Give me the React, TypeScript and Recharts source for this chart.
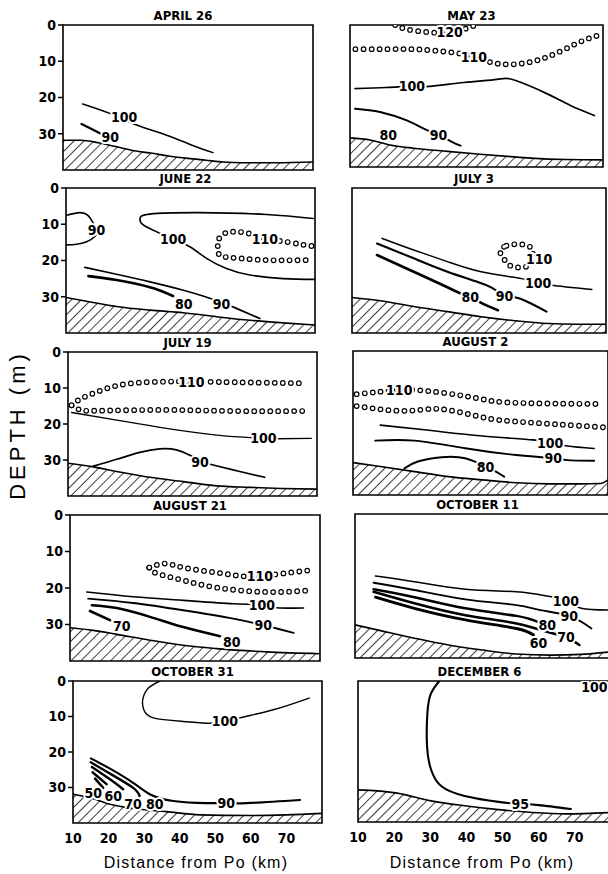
import React from "react";
import {
  ComposedChart,
  Line,
  Area,
  XAxis,
  YAxis,
  Scatter,
  ReferenceArea,
} from "recharts";

type Pt = [number, number]; // [distance km, depth m]
type Tag = [number, number, string];

// #region Data (distance from Po in km, depth in m)
const aprSeabed: Pt[] = [[10, 31.8], [15, 31.8], [20, 32.5], [25, 33.6], [30, 34.7], [35, 35.4], [40, 36.2], [45, 36.8], [50, 37.3], [55, 37.8], [60, 38], [70, 38], [80, 37.8]];
const apr100: Pt[] = [[15.5, 21.8], [23.6, 24.6], [30.6, 27.6], [39, 30.4], [46.5, 33.3], [52, 35.2]];
const apr90: Pt[] = [[15.2, 27.3], [18, 28.7], [21, 30.2]];
const aprTags: Tag[] = [[27.1, 25.5, "100"], [23.2, 30.8, "90"]];

const maySeabed: Pt[] = [[10, 31.8], [15.6, 32.4], [21, 33.8], [27.6, 34.7], [37, 35.6], [46, 36.4], [53.5, 37], [60, 37.5], [70, 37.9], [80, 38]];
const may120: Pt[] = [[22.5, 0], [25.7, 1.2], [31.3, 2], [37.3, 2.2], [41.5, 1.2], [45, 0]];
const may110: Pt[] = [[11.5, 6.8], [20, 6.8], [27, 6.8], [32, 7.1], [39.6, 7.9], [44.3, 9], [48.9, 10.5], [54.4, 11.1], [60, 10.4], [64.6, 9], [69.3, 6.9], [74, 4.6], [79, 2.8]];
const may100: Pt[] = [[11.4, 17.9], [20, 17.6], [27, 17.3], [32, 17.3], [41.5, 16.2], [50.7, 15.3], [55.4, 15.5], [64.6, 19.4], [71, 22.7], [77.6, 25.5]];
const may90: Pt[] = [[11.4, 23.6], [18.3, 24.5], [25.7, 26.9], [30.4, 29.2], [34.5, 31], [38.2, 32.9], [40.6, 34]];
const mayTags: Tag[] = [[37.6, 1.9, "120"], [44.3, 9, "110"], [27.1, 17.3, "100"], [34.5, 31, "90"], [20.6, 31, "80"]];

const junSeabed: Pt[] = [[10, 30.2], [15, 31.1], [24.2, 32.7], [33.6, 33.7], [43, 34.4], [52.3, 35.5], [61.7, 36.5], [71, 37.2], [80, 37.8]];
const jun90a: Pt[] = [[10.2, 7.5], [13.9, 6.8], [16.3, 7.7], [17.7, 9.8], [18.6, 11.6], [18.1, 13.4], [15.8, 14.8], [13, 15.5], [10.2, 15.7]];
const jun100: Pt[] = [[79.5, 8.4], [66.4, 7.3], [47.6, 6.8], [33.6, 7.2], [30.8, 8.4], [31.7, 10.2], [36.4, 12.5], [40.1, 14.1], [44.8, 16.2], [49.5, 19.4], [55.1, 22.2], [61.7, 24], [71, 25], [80, 25.2]];
const jun110: Pt[] = [[79, 16], [75.7, 15.5], [70.1, 14.6], [65.9, 14.1], [61.2, 12.5], [57.9, 12.1], [55.1, 12.3], [52.8, 14.4], [52.8, 17.1], [53.7, 18.8], [58.9, 19.4], [66.4, 19.9], [77.6, 19.9]];
const jun90b: Pt[] = [[15.3, 21.9], [24.2, 23.8], [33.6, 25.9], [43, 28.2], [48.5, 29.8], [53.7, 31.5], [57.9, 33.2], [64.5, 36]];
const jun80: Pt[] = [[16.3, 24.3], [24.2, 25.4], [33.6, 27.4], [40.1, 29.8]];
const junTags: Tag[] = [[18.6, 11.6, "90"], [40.1, 14.1, "100"], [65.9, 14.1, "110"], [53.7, 31.9, "90"], [43.1, 31.9, "80"]];

const jul3Seabed: Pt[] = [[10, 30.2], [17.8, 31.1], [27, 32.7], [36.3, 34.1], [45.6, 35.5], [54.8, 36.6], [64.1, 37.4], [72, 37.6], [80, 37.6]];
const jul3110: Pt[] = [[50.6, 17.1], [52.5, 15.7], [54.8, 15.5], [57.1, 15.5], [59.4, 16], [60.2, 18.5], [59.4, 21.3], [57.6, 21.9], [55.8, 22], [53.5, 21.7], [52.1, 19.9], [51, 18.5]];
const jul3100: Pt[] = [[18.3, 13.9], [27, 17.1], [36.3, 20.3], [45.6, 23.1], [56.7, 25], [61.3, 26.1], [65, 26.8], [76.1, 28]];
const jul390: Pt[] = [[16.9, 15.3], [27, 19.4], [36.3, 23.1], [45.6, 26.3], [49.3, 28], [52, 29.5], [56.2, 30.5], [63.6, 34.1]];
const jul380: Pt[] = [[16.9, 18.5], [27, 23.1], [36.3, 27.4], [40, 29.1], [42.6, 30], [46, 31.9], [50.2, 33.7]];
const jul3Tags: Tag[] = [[61.6, 19.7, "110"], [61.3, 26.3, "100"], [52, 29.8, "90"], [42.6, 30, "80"]];

const jul19Seabed: Pt[] = [[10, 30.9], [17.1, 31.9], [23.7, 33.2], [33, 34.8], [42.4, 36], [51.8, 37.2], [61.1, 37.6], [70, 37.9], [80, 38.1]];
const jul19110a: Pt[] = [[11, 14.8], [13.4, 13.1], [17.1, 11.5], [22.7, 9.6], [30.2, 8.5], [39.6, 8.2], [44.7, 8.2], [56.4, 8.4], [77, 8.7]];
const jul19110b: Pt[] = [[11, 14.8], [13.4, 16.1], [19, 16.3], [37.7, 16.1], [56.4, 16.4], [77.5, 16.4]];
const jul19100: Pt[] = [[11, 16.8], [23.7, 18.9], [37.7, 21.2], [51.8, 23.1], [60.2, 23.7], [64.9, 24], [68.6, 24.1], [78.4, 24]];
const jul1990: Pt[] = [[17.1, 31.7], [23.7, 29.8], [30.2, 27.9], [35.8, 26.9], [40.5, 27.2], [44.7, 28.9], [47.1, 30.3], [50.8, 31.4], [58.3, 33.2], [65.3, 34.8]];
const jul19Tags: Tag[] = [[44.7, 8.2, "110"], [64.9, 24, "100"], [47.1, 30.5, "90"]];

const aug2Seabed: Pt[] = [[10, 31], [17.5, 32.1], [26.9, 33.5], [36.2, 34.9], [45.5, 35.8], [54.8, 36.6], [64.1, 36.9], [72, 36.9], [78, 36.8], [80, 35.8]];
const aug2110a: Pt[] = [[11, 12], [17.5, 11.3], [22.7, 10.8], [26.9, 10.8], [36.2, 11.8], [45.5, 13.4], [54.8, 14.4], [78, 14.7]];
const aug2110b: Pt[] = [[11, 15.3], [22.2, 16.6], [30, 16.2], [36.2, 16.4], [45.5, 18.4], [54.8, 19.6], [79, 21.2]];
const aug2100: Pt[] = [[17.5, 20.6], [31.5, 22.1], [45.5, 23.6], [59.4, 24.7], [64.1, 25.5], [68.8, 26.4], [76.2, 27.1]];
const aug290: Pt[] = [[16.1, 24.9], [26.9, 24.9], [40.8, 27], [54.8, 28.9], [65, 29.8], [68.8, 30.3], [76.2, 30.5]];
const aug280: Pt[] = [[24.1, 32.6], [27.8, 30.7], [34.3, 29.5], [40.8, 29.8], [46.4, 32.1], [49.2, 33.5], [51.5, 34.9]];
const aug2Tags: Tag[] = [[22.7, 10.8, "110"], [64.1, 25.5, "100"], [65, 29.8, "90"], [46.4, 32.1, "80"]];

const aug21Seabed: Pt[] = [[10, 30.9], [16.5, 31.6], [23.1, 32.7], [32.4, 34.3], [41.7, 35.7], [51.1, 36.6], [65.1, 37.5], [80, 38]];
const aug21110a: Pt[] = [[32.2, 14.4], [36.6, 13.3], [41.7, 14.4], [51.1, 15.8], [58.5, 16.8], [63.2, 16.8], [69.7, 16], [77.7, 15.1]];
const aug21110b: Pt[] = [[32.2, 14.4], [34.3, 16], [41.7, 17.9], [51.1, 19.9], [65.1, 21.1], [77.7, 20.6]];
const aug21100: Pt[] = [[14.7, 21.1], [27.7, 22.4], [41.7, 23.4], [55.7, 24.3], [63.7, 24.7], [67.9, 25.4], [75.4, 25.5]];
const aug2190: Pt[] = [[15.1, 22.9], [27.7, 24.1], [41.7, 26.1], [55.7, 28.4], [64.1, 30.2], [67.9, 31.1], [72.6, 32.3]];
const aug2180: Pt[] = [[16.1, 24.7], [23.1, 25.5], [32.4, 27.9], [41.7, 30.7], [52, 33.2]];
const aug2170: Pt[] = [[15.6, 26.3], [21.2, 28.8]];
const aug21Tags: Tag[] = [[63.2, 16.8, "110"], [63.7, 24.7, "100"], [64.1, 30.2, "90"], [55.3, 34.8, "80"], [24.5, 30.5, "70"]];

const oct11Seabed: Pt[] = [[10, 30.8], [17, 32.4], [26.3, 34.5], [35.7, 36.4], [45, 37.8], [54.3, 38.9], [63.7, 39.2], [72, 39], [80, 38.3]];
const oct11100: Pt[] = [[15.6, 17.2], [26.3, 18.8], [40.3, 20.9], [54.3, 21.6], [62.8, 22.8], [67.9, 24.1], [72.1, 26.2], [80.5, 26.7]];
const oct1190: Pt[] = [[15.1, 19.1], [26.3, 21.1], [40.3, 23.7], [54.3, 25.3], [60.9, 26.7], [68.8, 28.3], [74.9, 31.8]];
const oct1180: Pt[] = [[15.1, 20.9], [26.3, 23.1], [40.3, 26.2], [54.3, 28.3], [60, 29.9]];
const oct1170: Pt[] = [[15.1, 21.6], [26.3, 24.8], [40.3, 28.1], [54.3, 30.4], [63.7, 33], [67.9, 34.1], [71.6, 36.4]];
const oct1160: Pt[] = [[15.6, 23.1], [26.3, 26.2], [40.3, 29.4], [54.3, 31.8], [59, 33.6]];
const oct11Tags: Tag[] = [[67.9, 24.1, "100"], [68.8, 28.3, "90"], [62.8, 30.8, "80"], [67.9, 34.1, "70"], [60.4, 35.7, "60"]];

const oct31Seabed: Pt[] = [[10, 31.9], [14.8, 32.9], [20.4, 34.7], [26.9, 35.9], [36.3, 36.8], [45.7, 37.7], [59.7, 37.9], [70, 37.7], [80, 37.3]];
const oct31100: Pt[] = [[34.5, 0], [31.2, 2], [29.6, 5.3], [29.9, 8.1], [32.6, 10.4], [41, 11.4], [48.5, 11.9], [52.7, 11.6], [56.9, 10.4], [66.3, 8.1], [76.4, 4.8]];
const oct3190: Pt[] = [[15, 21.8], [20.4, 24.7], [26.9, 28.7], [31.6, 31.9], [38.2, 33.8], [47.6, 34.4], [53.1, 34.4], [58.8, 34.4], [73.8, 33.5]];
const oct3180: Pt[] = [[15, 22.9], [20.4, 26.1], [26.9, 30.1], [28.7, 32.4]];
const oct3170: Pt[] = [[15.3, 24.2], [20.4, 27.7], [24.1, 30.5]];
const oct3160: Pt[] = [[15.5, 25.7], [19.5, 29.1]];
const oct3150: Pt[] = [[16.2, 27.5], [18.5, 30.1]];
const oct31Tags: Tag[] = [[52.7, 11.4, "100"], [53.1, 34.4, "90"], [33, 34.7, "80"], [26.9, 34.7, "70"], [21.3, 32.4, "60"], [15.7, 31.5, "50"]];

const dec6Seabed: Pt[] = [[10, 30.9], [20.8, 31.8], [30.2, 34], [39.5, 35.4], [48.9, 36.5], [58.2, 37.3], [67.5, 37.7], [80, 37.3]];
const dec695: Pt[] = [[32.5, 0], [30.2, 3.5], [29.2, 9.1], [29.1, 18.5], [30.2, 25.1], [33, 29.8], [39.5, 32.6], [48.9, 34.3], [54.9, 34.9], [60, 35.2], [68.9, 36.3]];
const dec6Tags: Tag[] = [[54.9, 34.9, "95"], [75.4, 1.6, "100"]];

const xTicks = [10, 20, 30, 40, 50, 60, 70];
const yTicks = [0, 10, 20, 30];
// #endregion

const FONT =
  '"DejaVu Sans Condensed", "Liberation Sans Narrow", "Liberation Sans", sans-serif';

type Contour = { pts: Pt[]; w?: number; dotted?: boolean; curve?: any };
type PanelSpec = {
  title: string;
  left: number;
  top: number;
  w: number;
  h: number;
  col: number;
  last?: boolean;
  seabed: Pt[];
  contours: Contour[];
  tags: Tag[];
};

const panels: PanelSpec[] = [
  { title: "APRIL 26", left: 63, top: 25, w: 250, h: 145, col: 0, seabed: aprSeabed, tags: aprTags,
    contours: [{ pts: apr100, w: 1.5 }, { pts: apr90, w: 2.3 }] },
  { title: "MAY 23", left: 350, top: 25, w: 253, h: 142, col: 1, seabed: maySeabed, tags: mayTags,
    contours: [{ pts: may120, dotted: true }, { pts: may110, dotted: true }, { pts: may100, w: 1.7 }, { pts: may90, w: 1.9 }] },
  { title: "JUNE 22", left: 66, top: 188, w: 249, h: 145, col: 0, seabed: junSeabed, tags: junTags,
    contours: [{ pts: jun90a, w: 1.6 }, { pts: jun100, w: 1.6 }, { pts: jun110, dotted: true }, { pts: jun90b, w: 1.7 }, { pts: jun80, w: 2.6 }] },
  { title: "JULY 3", left: 352, top: 188, w: 254, h: 145, col: 1, seabed: jul3Seabed, tags: jul3Tags,
    contours: [{ pts: jul3110, dotted: true, curve: "basisClosed" }, { pts: jul3100, w: 1.5 }, { pts: jul390, w: 2.1 }, { pts: jul380, w: 2.7 }] },
  { title: "JULY 19", left: 68, top: 352, w: 249, h: 144, col: 0, seabed: jul19Seabed, tags: jul19Tags,
    contours: [{ pts: jul19110a, dotted: true }, { pts: jul19110b, dotted: true }, { pts: jul19100, w: 1.3 }, { pts: jul1990, w: 1.7 }] },
  { title: "AUGUST 2", left: 353, top: 351, w: 255, h: 144, col: 1, seabed: aug2Seabed, tags: aug2Tags,
    contours: [{ pts: aug2110a, dotted: true }, { pts: aug2110b, dotted: true }, { pts: aug2100, w: 1.6 }, { pts: aug290, w: 1.9 }, { pts: aug280, w: 1.9 }] },
  { title: "AUGUST 21", left: 70, top: 515, w: 250, h: 146, col: 0, seabed: aug21Seabed, tags: aug21Tags,
    contours: [{ pts: aug21110a, dotted: true }, { pts: aug21110b, dotted: true }, { pts: aug21100, w: 1.6 }, { pts: aug2190, w: 1.9 }, { pts: aug2180, w: 2.5 }, { pts: aug2170, w: 2.7 }] },
  { title: "OCTOBER 11", left: 355, top: 514, w: 255, h: 144, col: 1, seabed: oct11Seabed, tags: oct11Tags,
    contours: [{ pts: oct11100, w: 1.5 }, { pts: oct1190, w: 1.9 }, { pts: oct1180, w: 2.5 }, { pts: oct1170, w: 2.5 }, { pts: oct1160, w: 2.9 }] },
  { title: "OCTOBER 31", left: 73, top: 681, w: 249, h: 142, col: 0, last: true, seabed: oct31Seabed, tags: oct31Tags,
    contours: [{ pts: oct31100, w: 1.4 }, { pts: oct3190, w: 2.1 }, { pts: oct3180, w: 2.4 }, { pts: oct3170, w: 2.4 }, { pts: oct3160, w: 2.4 }, { pts: oct3150, w: 2.4 }] },
  { title: "DECEMBER 6", left: 358, top: 681, w: 253, h: 141, col: 1, last: true, seabed: dec6Seabed, tags: dec6Tags,
    contours: [{ pts: dec695, w: 2.1 }] },
];

const rows = (pts: Pt[]) => pts.map(([x, y]) => ({ x, y }));

const TagShape = (props: any) => {
  const { cx, cy, payload } = props;
  return (
    <text
      x={cx}
      y={cy}
      textAnchor="middle"
      dominantBaseline="central"
      fontSize={14}
      fontWeight={700}
      fontFamily={FONT}
      fill="#000"
      stroke="#fff"
      strokeWidth={4}
      strokeLinejoin="round"
      paintOrder="stroke"
    >
      {payload.text}
    </text>
  );
};

const tickStyle = { fontSize: 14, fontWeight: 700, fill: "#000", fontFamily: FONT };

function Panel({ spec, idx }: { spec: PanelSpec; idx: number }) {
  const yw = spec.col === 0 ? 34 : 0;
  const ml = spec.col === 0 ? 0 : 12;
  const xh = spec.last ? 24 : 0;
  const mt = 8;
  const hatch = `hatch-${idx}`;
  return (
    <>
      <div
        style={{
          position: "absolute",
          left: spec.left - 5,
          top: spec.top - 17,
          width: spec.w,
          textAlign: "center",
          fontSize: 13,
          fontWeight: 700,
          lineHeight: "15px",
          fontFamily: FONT,
        }}
      >
        {spec.title}
      </div>
      <div style={{ position: "absolute", left: spec.left - yw - ml, top: spec.top - mt }}>
        <ComposedChart
          width={spec.w + yw + ml + 4}
          height={spec.h + mt + xh + 3}
          margin={{ top: mt, right: 4, bottom: 3, left: ml }}
          data={rows(spec.seabed)}
        >
          <defs>
            <pattern
              id={hatch}
              width="7"
              height="7"
              patternUnits="userSpaceOnUse"
              patternTransform="rotate(45)"
            >
              <line x1="0" y1="0" x2="0" y2="7" stroke="#000" strokeWidth="1.5" />
            </pattern>
          </defs>
          <XAxis
            type="number"
            dataKey="x"
            domain={[10, 80]}
            allowDataOverflow
            ticks={xTicks}
            interval={0}
            hide={!spec.last}
            height={xh}
            tickLine={false}
            axisLine={false}
            tick={tickStyle}
            tickMargin={4}
          />
          <YAxis
            type="number"
            dataKey="y"
            domain={[0, 40]}
            reversed
            allowDataOverflow
            ticks={yTicks}
            interval={0}
            hide={spec.col !== 0}
            width={yw}
            tickSize={5}
            tickLine={{ stroke: "#000", strokeWidth: 1.5 }}
            axisLine={false}
            tick={tickStyle}
            tickMargin={2}
          />
          <Area
            type="monotone"
            dataKey="y"
            baseValue={40}
            stroke="#000"
            strokeWidth={1.6}
            fill={`url(#${hatch})`}
            fillOpacity={1}
            dot={false}
            activeDot={false}
            isAnimationActive={false}
          />
          {spec.contours.flatMap((c, i) =>
            c.dotted
              ? [
                  <Line
                    key={`${i}-o`}
                    data={rows(c.pts)}
                    dataKey="y"
                    type={c.curve ?? "natural"}
                    stroke="#000"
                    strokeWidth={5.8}
                    strokeDasharray="0 8"
                    strokeLinecap="round"
                    dot={false}
                    activeDot={false}
                    isAnimationActive={false}
                  />,
                  <Line
                    key={`${i}-i`}
                    data={rows(c.pts)}
                    dataKey="y"
                    type={c.curve ?? "natural"}
                    stroke="#fff"
                    strokeWidth={3.4}
                    strokeDasharray="0 8"
                    strokeLinecap="round"
                    dot={false}
                    activeDot={false}
                    isAnimationActive={false}
                  />,
                ]
              : [
                  <Line
                    key={`${i}`}
                    data={rows(c.pts)}
                    dataKey="y"
                    type={c.curve ?? "natural"}
                    stroke="#000"
                    strokeWidth={c.w ?? 1.5}
                    strokeLinecap="round"
                    dot={false}
                    activeDot={false}
                    isAnimationActive={false}
                  />,
                ]
          )}
          <ReferenceArea
            x1={10}
            x2={80}
            y1={0}
            y2={40}
            fill="none"
            stroke="#000"
            strokeWidth={1.6}
            ifOverflow="visible"
          />
          <Scatter
            data={spec.tags.map(([x, y, text]) => ({ x, y, text }))}
            dataKey="y"
            shape={TagShape}
            isAnimationActive={false}
          />
        </ComposedChart>
      </div>
    </>
  );
}

export default function App() {
  return (
    <div
      style={{
        position: "absolute",
        left: 0,
        top: 0,
        width: 608,
        height: 874,
        overflow: "hidden",
        background: "#fff",
        fontFamily: FONT,
      }}
    >
      {panels.map((p, i) => (
        <Panel key={p.title} spec={p} idx={i} />
      ))}
      <div
        style={{
          position: "absolute",
          left: 18,
          top: 425,
          transform: "translate(-50%, -50%) rotate(-90deg)",
          whiteSpace: "nowrap",
          fontSize: 22,
          letterSpacing: 4,
          fontFamily: '"Liberation Sans", sans-serif',
        }}
      >
        DEPTH (m)
      </div>
      <div
        style={{
          position: "absolute",
          left: 96,
          top: 854,
          width: 200,
          textAlign: "center",
          fontSize: 16,
          letterSpacing: 1.2,
          fontFamily: '"Liberation Sans", sans-serif',
        }}
      >
        Distance from Po (km)
      </div>
      <div
        style={{
          position: "absolute",
          left: 382,
          top: 854,
          width: 200,
          textAlign: "center",
          fontSize: 16,
          letterSpacing: 1.2,
          fontFamily: '"Liberation Sans", sans-serif',
        }}
      >
        Distance from Po (km)
      </div>
    </div>
  );
}
